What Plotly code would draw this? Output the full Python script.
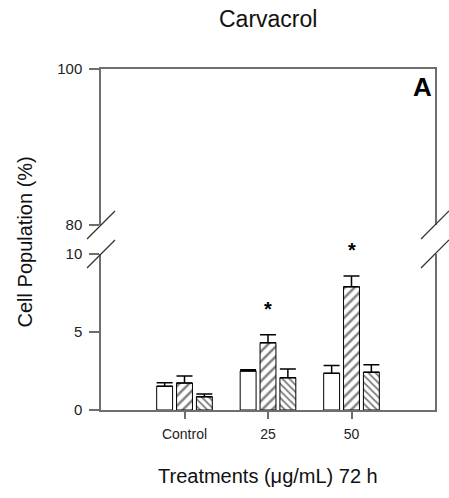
import plotly.graph_objects as go

categories = ["Control", "25", "50"]
white_vals = [1.52, 2.50, 2.35]
white_err = [0.23, 0.08, 0.51]
hatch1_vals = [1.73, 4.31, 7.90]
hatch1_err = [0.45, 0.52, 0.69]
hatch2_vals = [0.85, 2.07, 2.42]
hatch2_err = [0.18, 0.56, 0.48]
significant = [False, True, True]  # asterisk over series 2

lower_ticks = [0, 5, 10]
upper_ticks = [80, 100]

FONT = "Liberation Sans, Arial, sans-serif"
AXCOL = "#6e6e6e"
W, H = 449, 498
L, R, T, B = 101, 12, 69, 88
plot_h = H - T - B  # 341
seg = 156
lower_top = seg / plot_h
upper_bot = (plot_h - seg) / plot_h

xpos = list(range(len(categories)))

fig = go.Figure()


def add_bar(vals, errs, pattern, size):
    fig.add_trace(go.Bar(
        x=xpos, y=vals, xaxis="x", yaxis="y",
        marker=dict(color="white", line=dict(color="black", width=1),
                    pattern=dict(shape=pattern, size=size, solidity=0.35,
                                 fgcolor="black", bgcolor="white")),
        error_y=dict(type="data", array=errs, arrayminus=[0] * len(errs),
                     symmetric=False, color="black", thickness=1.5, width=8),
        showlegend=False,
    ))


add_bar(white_vals, white_err, "", 8)
add_bar(hatch1_vals, hatch1_err, "/", 7)
add_bar(hatch2_vals, hatch2_err, "\\", 5)

# empty trace so the upper subplot exists
fig.add_trace(go.Scatter(x=[None], y=[None], xaxis="x2", yaxis="y2",
                         showlegend=False, hoverinfo="skip"))

annotations = []
for i, sig in enumerate(significant):
    if sig:
        annotations.append(dict(x=xpos[i], y=hatch1_vals[i] + hatch1_err[i],
                                xref="x", yref="y", text="<b>*</b>",
                                showarrow=False, yshift=26,
                                font=dict(size=20, family=FONT, color="black")))


def py(p):
    return (H - B - p) / plot_h


annotations += [
    dict(x=0.5, y=py(19), xref="paper", yref="paper", text="Carvacrol",
         showarrow=False, xanchor="center", yanchor="middle",
         font=dict(size=23, family=FONT, color="#111")),
    dict(x=(424 - L) / (W - L - R), y=py(87), xref="paper", yref="paper",
         text="<b>A</b>", showarrow=False, xanchor="center", yanchor="middle",
         font=dict(size=26, family=FONT, color="black")),
    dict(x=0.5, y=py(476), xref="paper", yref="paper",
         text="Treatments (\u03bcg/mL) 72 h", showarrow=False,
         xanchor="center", yanchor="middle",
         font=dict(size=20, family=FONT, color="#111")),
    dict(x=(25 - L) / (W - L - R), y=py(242), xref="paper", yref="paper",
         text="Cell Population (%)", showarrow=False, textangle=-90,
         xanchor="center", yanchor="middle",
         font=dict(size=20, family=FONT, color="#111")),
]

shapes = []
for xa in (0, 1):
    for ya in (lower_top, upper_bot):
        shapes.append(dict(type="line", xref="paper", yref="paper",
                           xsizemode="pixel", ysizemode="pixel",
                           xanchor=xa, yanchor=ya,
                           x0=-14, x1=14, y0=-14, y1=14,
                           line=dict(color="#333", width=1.2)))

fig.update_layout(
    width=W, height=H,
    margin=dict(l=L, r=R, t=T, b=B),
    paper_bgcolor="white", plot_bgcolor="white",
    barmode="group", bargap=0.286, bargroupgap=0.2,
    font=dict(family=FONT, size=15, color="#222"),
    xaxis=dict(range=[-1, 3], tickvals=xpos, ticktext=categories,
               anchor="y", showline=True, linecolor=AXCOL, linewidth=1.5,
               ticks="outside", ticklen=7, tickcolor=AXCOL, tickwidth=1.5,
               showgrid=False, zeroline=False, ticklabelstandoff=3,
               tickfont=dict(size=14, family=FONT, color="#222")),
    xaxis2=dict(range=[-1, 3], anchor="y2", side="top", showline=True,
                linecolor=AXCOL, linewidth=1.5, ticks="",
                showticklabels=False, showgrid=False, zeroline=False),
    yaxis=dict(domain=[0, lower_top], range=[0, 10], tickvals=lower_ticks,
               showline=True, mirror=True, linecolor=AXCOL, linewidth=1.5,
               ticks="outside", ticklen=10, tickcolor=AXCOL, tickwidth=1.5,
               showgrid=False, zeroline=False, anchor="x",
               ticklabelstandoff=4,
               tickfont=dict(size=15, family=FONT, color="#222")),
    yaxis2=dict(domain=[upper_bot, 1], range=[80, 100], tickvals=upper_ticks,
                showline=True, mirror=True, linecolor=AXCOL, linewidth=1.5,
                ticks="outside", ticklen=10, tickcolor=AXCOL, tickwidth=1.5,
                showgrid=False, zeroline=False, anchor="x2",
                ticklabelstandoff=4,
                tickfont=dict(size=15, family=FONT, color="#222")),
    annotations=annotations,
    shapes=shapes,
)

fig.write_html("out.html", config={"displayModeBar": False},
               post_script="document.body.style.margin='0';"
                           "document.body.style.padding='0';")
